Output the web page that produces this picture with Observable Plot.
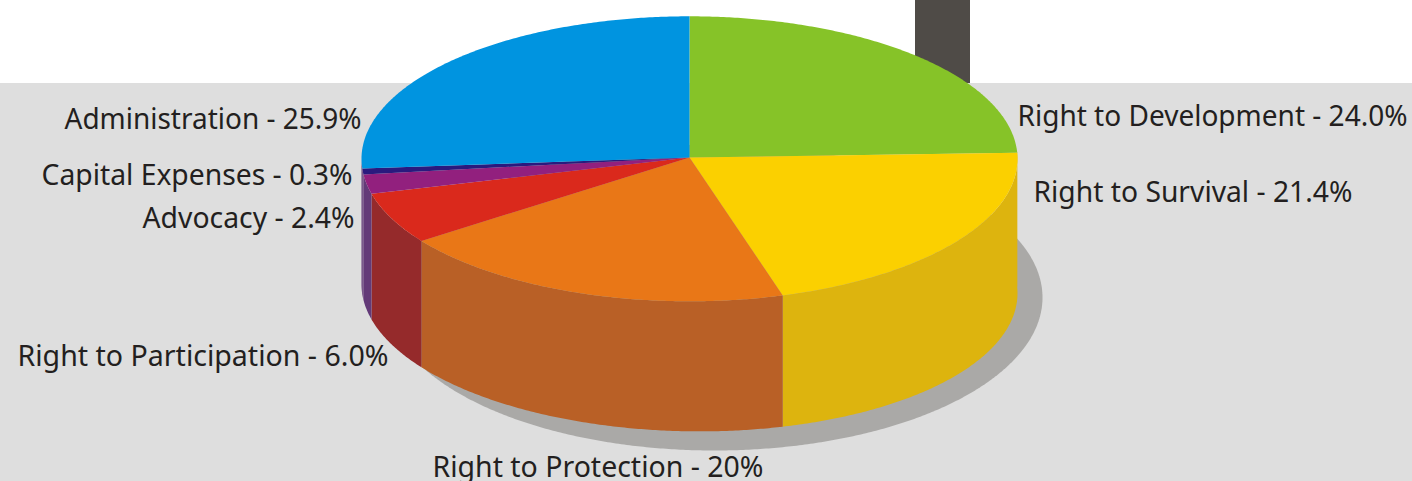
<!DOCTYPE html>
<html>
<head>
<meta charset="utf-8">
<script src="https://cdn.jsdelivr.net/npm/d3@7"></script>
<script src="https://cdn.jsdelivr.net/npm/@observablehq/plot@0.6"></script>
<style>
html,body{margin:0;padding:0;background:#fff;overflow:hidden}
svg{display:block}
</style>
</head>
<body>
<div id="chart"></div>
<script>
// Data, clockwise from the top of the pie
const categories = ["Right to Development","Right to Survival","Right to Protection","Right to Participation","Advocacy","Capital Expenses","Administration"];
// The figures the chart prints
const shareLabels = ["24.0%","21.4%","20%","6.0%","2.4%","0.3%","25.9%"];
// Wedge sizes (the drawn wedges differ a little from the printed figures)
const shares = [24.33,21.08,19.81,5.83,2.19,0.67,26.08];

// Styles
const topColors  = ["#86c328","#fbd000","#e97717","#da291c","#92207e","#2a1a7e","#0094e0"];
const wallColors = ["#ddb40e","#ddb40e","#b96026","#952a2b","#633a78","#633a78","#633a78"];

// Label placement: left edge, baseline and width, same order as categories
const labelLeft = [1017,1033,432,17,142,41,64];
const labelBase = [125,201,476,365,227,184,128];
const labelWidth = [390,319,331,371,212,311,297];

// Pie geometry; the wall is a little deeper on the right than on the left
const W = 1412, H = 481;
const pie = {cx:689, cy:158.3, apexY:157, rx:328, ry:142.5, depth:130, tilt:0.0135};
const shadow = {cx:714, cy:297, rx:328, ry:153};

const rim = (deg, e = pie) => {
  const t = deg * Math.PI / 180;
  return {x: e.cx + e.rx * Math.sin(t), y: e.cy - e.ry * Math.cos(t)};
};
const foot = deg => {
  const p = rim(deg);
  return {x: p.x, y: p.y + pie.depth + pie.tilt * (p.x - pie.cx)};
};
const arc = (a0, a1) => {
  const n = Math.max(2, Math.ceil(Math.abs(a1 - a0) * 2));
  return d3.range(n + 1).map(i => a0 + (a1 - a0) * i / n);
};

const total = d3.sum(shares);
let cum = 0;
const slices = categories.map((name, i) => {
  const a0 = cum / total * 360; cum += shares[i]; const a1 = cum / total * 360;
  return {name, a0, a1, top: topColors[i], wall: wallColors[i]};
});

const shadowPts = arc(0, 360).map(a => ({...rim(a, shadow), key: "shadow", color: "#aaa9a7"}));

const wallPts = slices.flatMap(s => {
  const a0 = Math.max(s.a0, 87), a1 = Math.min(s.a1, 270);
  if (a1 <= a0) return [];
  const as = arc(a0, a1);
  return [...as.map(a => rim(a)), ...as.slice().reverse().map(foot)]
    .map(p => ({...p, key: s.name, color: s.wall}));
});

const topPts = slices.flatMap(s =>
  [{x: pie.cx, y: pie.apexY}, ...arc(s.a0, s.a1).map(a => rim(a))]
    .map(p => ({...p, key: s.name, color: s.top})));

const panels = [
  {x1:0, x2:W, y1:83, y2:H, color:"#dedede"},
  {x1:915, x2:970, y1:0, y2:83, color:"#4f4b47"}
];

const labels = categories.map((name, i) => ({
  text: `${name} - ${shareLabels[i]}`, x: labelLeft[i], y: labelBase[i], w: labelWidth[i]
}));

const chart = Plot.plot({
  width: W, height: H, margin: 0,
  x: {domain:[0,W], range:[0,W], axis:null},
  y: {domain:[0,H], range:[0,H], axis:null},
  color: {type:"identity"},
  style: {background:"#fff"},
  marks: [
    Plot.rect(panels, {x1:"x1", x2:"x2", y1:"y1", y2:"y2", fill:"color"}),
    Plot.line(shadowPts, {x:"x", y:"y", z:"key", fill:"color", stroke:"none"}),
    Plot.line(wallPts, {x:"x", y:"y", z:"key", fill:"color", stroke:"none"}),
    Plot.line(topPts, {x:"x", y:"y", z:"key", fill:"color", stroke:"none"}),
    Plot.text(labels, {x:"x", y:"y", text:"text", textAnchor:"start", lineAnchor:"bottom",
      fill:"#231f20", fontFamily:"Noto Sans", fontSize:28.3})
  ]
});
document.getElementById("chart").append(chart);
// Fit each label to the width it has in the picture (the original face is condensed)
d3.select(chart).selectAll("text").each(function() {
  const l = labels.find(d => d.text === this.textContent);
  if (l) {
    this.setAttribute("textLength", l.w);
    this.setAttribute("lengthAdjust", "spacingAndGlyphs");
  }
});
</script>
</body>
</html>
